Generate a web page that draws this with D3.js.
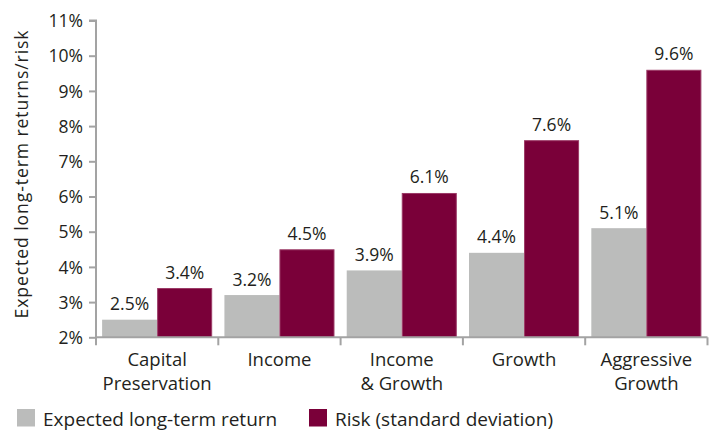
<!DOCTYPE html>
<html><head><meta charset="utf-8">
<script src="https://cdn.jsdelivr.net/npm/d3@7"></script>
<style>
body{margin:0;background:#fff;}
text{font-family:"Open Sans",sans-serif;fill:#231f20;}
</style></head>
<body><svg id="c" width="716" height="430"></svg>
<script>
const categories = [["Capital","Preservation"],["Income"],["Income","& Growth"],["Growth"],["Aggressive","Growth"]];
const seriesNames = ["Expected long-term return","Risk (standard deviation)"];
const expectedReturn = [2.5, 3.2, 3.9, 4.4, 5.1];
const risk = [3.4, 4.5, 6.1, 7.6, 9.6];
const yTicks = [2,3,4,5,6,7,8,9,10,11];
const colors = ["#bbbcbb","#7a0039"];
const strokes = ["none","#9b3a66"];

const svg = d3.select("#c");
const pLeft = 96, pRight = 707.5, pTop = 20.5, pBottom = 337.3;
const catIdx = categories.map((d,i)=>i);
const x0 = d3.scaleBand().domain(catIdx).range([pLeft,pRight]).paddingInner(0.1).paddingOuter(0.05);
const x1 = d3.scaleBand().domain([0,1]).range([0,x0.bandwidth()]);
const y = d3.scaleLinear().domain([2,11]).range([pBottom,pTop]);

// bars
const series = [expectedReturn, risk];
series.forEach((vals,s)=>{
  svg.append("g").selectAll("rect").data(vals).join("rect")
    .attr("x",(d,i)=>x0(i)+x1(s)+(s?0.5:0))
    .attr("width",x1.bandwidth()-(s?1:0))
    .attr("y",d=>y(d)+(s?0.5:0))
    .attr("height",d=>y(2)-y(d)-(s?0.5:0))
    .attr("fill",colors[s])
    .attr("stroke",strokes[s]).attr("stroke-width",1);
  svg.append("g").selectAll("text").data(vals).join("text")
    .attr("x",(d,i)=>x0(i)+x1(s)+x1.bandwidth()/2)
    .attr("y",d=>y(d)-9.5)
    .attr("text-anchor","middle")
    .attr("font-size","17.5px")
    .text(d=>d.toFixed(1)+"%");
});

// y axis
const yAxis = svg.append("g").attr("transform",`translate(${pLeft},0)`)
  .call(d3.axisLeft(y).tickValues(yTicks).tickSize(7).tickPadding(6).tickFormat(d=>d+"%"));
yAxis.selectAll("text").attr("font-size","17.5px").attr("dy","0.35em");
yAxis.select(".domain").attr("d",`M-7,${pTop}H0V${pBottom}`);

// x axis
const xg = svg.append("g");
xg.append("line").attr("x1",pLeft).attr("x2",pRight).attr("y1",pBottom).attr("y2",pBottom);
const bounds = [pLeft].concat(catIdx.map(i=>x0(i)+x0.bandwidth()+x0.step()*0.05));
xg.selectAll("line.t").data(bounds).join("line").attr("class","t")
  .attr("x1",d=>d).attr("x2",d=>d).attr("y1",pBottom).attr("y2",pBottom+8);
svg.selectAll("g line, g path.domain").attr("stroke","#a3a3a3").attr("stroke-width",2).attr("fill","none");
yAxis.selectAll(".tick line").attr("stroke","#a3a3a3").attr("stroke-width",2);

categories.forEach((lines,i)=>{
  const t = svg.append("text").attr("x",x0(i)+x0.bandwidth()/2).attr("y",366)
    .attr("text-anchor","middle").attr("font-size","18.5px");
  lines.forEach((l,k)=>t.append("tspan").attr("x",x0(i)+x0.bandwidth()/2).attr("dy",k?24:0).text(l));
});

// y title
svg.append("text").attr("transform",`translate(27.5,174) rotate(-90)`)
  .attr("text-anchor","middle").attr("font-size","17.6px").attr("letter-spacing","0.9px")
  .text("Expected long-term returns/risk");

// legend
const lx = [17,309];
seriesNames.forEach((n,s)=>{
  svg.append("rect").attr("x",lx[s]).attr("y",409).attr("width",18).attr("height",17.5).attr("fill",colors[s]);
  svg.append("text").attr("x",lx[s]+26).attr("y",425.5).attr("font-size","19px").text(n);
});
</script></body></html>
